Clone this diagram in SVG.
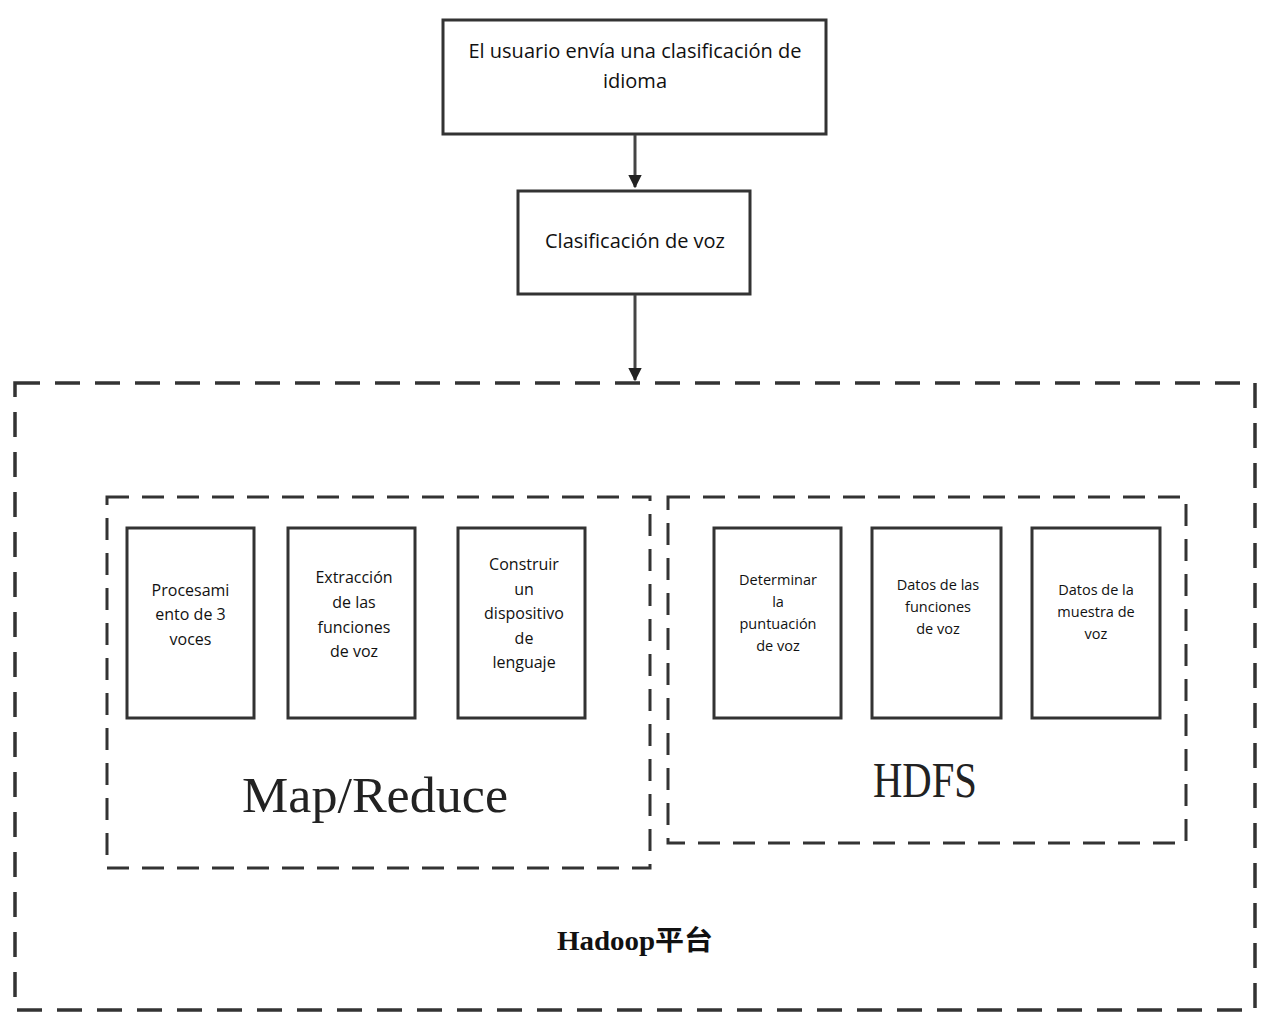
<svg xmlns="http://www.w3.org/2000/svg" width="1267" height="1015" viewBox="0 0 1267 1015">
<defs>
<marker id="arr" viewBox="0 0 10 10" refX="9" refY="5" markerWidth="4.5" markerHeight="4.5" orient="auto" markerUnits="strokeWidth">
<path d="M0,0 L10,5 L0,10 z" fill="#222"/>
</marker>
<style>
.box{fill:#fff;stroke:#333;stroke-width:3}
.outer{fill:none;stroke:#333;stroke-width:3.5;stroke-dasharray:25 15}
.inner{fill:none;stroke:#333;stroke-width:3;stroke-dasharray:22 13}
.t{font-family:"Open Sans","Noto Sans",sans-serif;fill:#111;text-anchor:middle}
.big{font-size:20px}
.med{font-size:16px}
.sm{font-size:14.5px}
.serif{font-family:"Liberation Serif","DejaVu Serif",serif;fill:#222;text-anchor:middle;font-size:50px}
.conn{stroke:#444;stroke-width:3;fill:none}
</style>
</defs>
<rect width="1267" height="1015" fill="#fff"/>

<g id="hadoop">
<rect class="outer" x="15" y="383" width="1240" height="627"/>
<text x="557" y="950" font-family="Liberation Serif,'Noto Sans CJK SC',serif" font-weight="bold" font-size="27" fill="#111" textLength="156" lengthAdjust="spacingAndGlyphs">Hadoop平台</text>
</g>

<g id="mapreduce">
<rect class="inner" x="107" y="497" width="543" height="371"/>
<text class="serif" x="242" y="812" text-anchor="start" style="text-anchor:start" textLength="266" lengthAdjust="spacingAndGlyphs">Map/Reduce</text>
</g>

<g id="hdfs">
<rect class="inner" x="668" y="497" width="518" height="346"/>
<text class="serif" x="873" y="797" style="text-anchor:start" textLength="104" lengthAdjust="spacingAndGlyphs">HDFS</text>
</g>

<g id="n1">
<rect class="box" x="443" y="20" width="383" height="114"/>
<text class="t big" x="635" y="58">El usuario envía una clasificación de</text>
<text class="t big" x="635" y="88">idioma</text>
</g>

<g id="n2">
<rect class="box" x="518" y="191" width="232" height="103"/>
<text class="t big" x="635" y="248">Clasificación de voz</text>
</g>

<g id="m1">
<rect class="box" x="127" y="528" width="127" height="190"/>
<text class="t med" x="190.5" y="596">Procesami</text>
<text class="t med" x="190.5" y="620">ento de 3</text>
<text class="t med" x="190.5" y="645">voces</text>
</g>

<g id="m2">
<rect class="box" x="288" y="528" width="127" height="190"/>
<text class="t med" x="354" y="583">Extracción</text>
<text class="t med" x="354" y="608">de las</text>
<text class="t med" x="354" y="633">funciones</text>
<text class="t med" x="354" y="657">de voz</text>
</g>

<g id="m3">
<rect class="box" x="458" y="528" width="127" height="190"/>
<text class="t med" x="524" y="570">Construir</text>
<text class="t med" x="524" y="595">un</text>
<text class="t med" x="524" y="619">dispositivo</text>
<text class="t med" x="524" y="644">de</text>
<text class="t med" x="524" y="668">lenguaje</text>
</g>

<g id="h1">
<rect class="box" x="714" y="528" width="127" height="190"/>
<text class="t sm" x="778" y="585">Determinar</text>
<text class="t sm" x="778" y="607">la</text>
<text class="t sm" x="778" y="629">puntuación</text>
<text class="t sm" x="778" y="651">de voz</text>
</g>

<g id="h2">
<rect class="box" x="872" y="528" width="129" height="190"/>
<text class="t sm" x="938" y="590">Datos de las</text>
<text class="t sm" x="938" y="612">funciones</text>
<text class="t sm" x="938" y="634">de voz</text>
</g>

<g id="h3">
<rect class="box" x="1032" y="528" width="128" height="190"/>
<text class="t sm" x="1096" y="595">Datos de la</text>
<text class="t sm" x="1096" y="617">muestra de</text>
<text class="t sm" x="1096" y="639">voz</text>
</g>

<g id="connectors">
<line class="conn" x1="635" y1="135" x2="635" y2="187" marker-end="url(#arr)"/>
<line class="conn" x1="635" y1="295" x2="635" y2="380" marker-end="url(#arr)"/>
</g>
</svg>
